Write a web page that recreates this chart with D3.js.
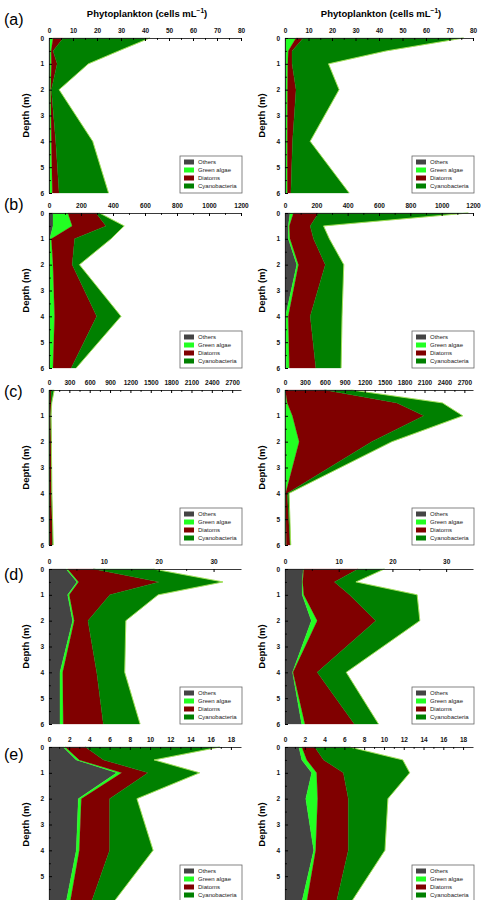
<!DOCTYPE html>
<html>
<head>
<meta charset="utf-8">
<script src="https://cdn.jsdelivr.net/npm/d3@7"></script>
<style>
  body { margin: 0; background: #fff; }
  svg { display: block; }
  text { font-family: "Liberation Sans", Arial, sans-serif; }
</style>
</head>
<body>
<svg id="chart" width="484" height="900"></svg>
<script>
const depths = [0, 0.5, 1, 2, 4, 6];
const groups = ["Others", "Green algae", "Diatoms", "Cyanobacteria"];
const colors = ["#444444", "#22ff22", "#800000", "#008000"];
const panelLabels = ["(a)", "(b)", "(c)", "(d)", "(e)"];
const xMax = [80, 1200, 2830, 35, 19];
const xStep = [10, 200, 300, 10, 2];
const depthTicks = [0, 1, 2, 3, 4, 5, 6];

// one row per group: Others, Green algae, Diatoms, Cyanobacteria (values at each depth)
const aLeft = [
  [0.2, 0.2, 0.2, 0.1, 0.2, 0.2],
  [1.5, 0.7, 0.8, 0.6, 0.8, 1.2],
  [4.2, 0.8, 2.4, 0.3, 1.8, 2.8],
  [36.1, 27.3, 13.0, 3.2, 15.4, 20.6]
];
const aRight = [
  [0.2, 0.2, 0.2, 0.2, 0.2, 0.2],
  [4.5, 1.2, 1.0, 0.9, 0.8, 0.8],
  [3.1, 1.6, 1.8, 3.6, 2.2, 1.5],
  [68.2, 40.0, 15.5, 18.3, 7.5, 24.8]
];
const bLeft = [
  [25, 25, 5, 4, 4, 4],
  [93, 120, 10, 21, 31, 21],
  [176, 211, 145, 120, 263, 114],
  [21, 114, 228, 45, 152, 31]
];
const bRight = [
  [32, 21, 21, 75, 3, 8],
  [22, 7, 11, 11, 18, 20],
  [160, 133, 150, 171, 140, 169],
  [956, 85, 101, 118, 203, 161]
];
const cLeft = [
  [2, 2, 2, 2, 2, 2],
  [5, 3, 3, 3, 5, 5],
  [25, 25, 20, 25, 30, 45],
  [45, 10, 5, 5, 5, 10]
];
const cRight = [
  [2, 2, 2, 2, 2, 2],
  [3, 33, 110, 211, 8, 18],
  [590, 1650, 1979, 1092, 25, 56],
  [405, 685, 584, 304, 26, 10]
];
const dLeft = [
  [3.1, 5.1, 3.4, 4.3, 2.0, 2.0],
  [0.3, 0.3, 0.3, 0.3, 0.5, 0.6],
  [4.7, 14.7, 7.4, 2.5, 6.2, 7.3],
  [10.9, 11.6, 8.8, 6.9, 5.1, 6.7]
];
const dRight = [
  [3.4, 3.2, 3.2, 4.9, 1.4, 3.1],
  [0.1, 0.1, 0.3, 1.1, 0.1, 0.6],
  [10.1, 5.9, 8.5, 10.9, 4.5, 9.2],
  [4.9, 4.0, 12.6, 8.2, 5.4, 4.5]
];
const eLeft = [
  [1.4, 2.7, 6.7, 2.9, 2.7, 1.7],
  [0.2, 0.3, 0.5, 0.3, 0.3, 0.4],
  [2.0, 2.4, 2.6, 2.8, 3.0, 2.1],
  [13.3, 5.0, 5.1, 2.7, 4.3, 2.2]
];
const eRight = [
  [1.4, 1.7, 2.7, 2.1, 2.9, 1.7],
  [0.3, 0.5, 0.5, 1.2, 0.2, 0.5],
  [1.3, 1.7, 2.7, 3.1, 3.3, 3.0],
  [3.5, 8.0, 6.7, 4.0, 3.7, 1.5]
];
const rows = [[aLeft, aRight], [bLeft, bRight], [cLeft, cRight], [dLeft, dRight], [eLeft, eRight]];

const svg = d3.select("#chart");
const rowTop = [38, 213, 390, 569, 747];
const labelY = [25, 210, 397, 580, 760];
const plotH = 155;
const cols = [{x0: 49, x1: 241}, {x0: 285, x1: 473}];

const stack = d3.stack().keys(groups);
const fmt = d3.format("d");

rows.forEach((pair, r) => {
  svg.append("text")
    .attr("x", 4).attr("y", labelY[r])
    .attr("font-size", 16)
    .text(panelLabels[r]);

  pair.forEach((vals, c) => {
    const top = rowTop[r];
    const col = cols[c];
    const x = d3.scaleLinear().domain([0, xMax[r]]).range([col.x0, col.x1]);
    const y = d3.scaleLinear().domain([0, 6]).range([top, top + plotH]);

    const table = depths.map((d, i) => {
      const o = {depth: d};
      groups.forEach((g, k) => o[g] = vals[k][i]);
      return o;
    });
    const layers = stack(table);

    const area = d3.area()
      .y(d => y(d.data.depth))
      .x0(d => x(d[0]))
      .x1(d => x(d[1]));

    const g = svg.append("g");
    g.selectAll("path.layer")
      .data(layers)
      .enter()
      .append("path")
        .attr("class", "layer")
        .attr("fill", (d, i) => colors[i])
        .attr("stroke", (d, i) => colors[i])
        .attr("stroke-width", 0.3)
        .attr("d", area);

    // light edge on the outer boundary
    const edge = d3.line().y(d => y(d.data.depth)).x(d => x(d[1]));
    g.append("path")
      .attr("fill", "none")
      .attr("stroke", "#b6ee5c")
      .attr("stroke-width", 0.8)
      .attr("d", edge(layers[3]));

    // top axis
    const ticks = d3.range(0, xMax[r] + 0.001, xStep[r]);
    const minor = d3.range(xStep[r] / 2, xMax[r], xStep[r]);
    const xAxis = svg.append("g")
      .attr("transform", `translate(0,${top})`)
      .call(d3.axisTop(x).tickValues(ticks).tickFormat(fmt).tickSizeInner(-3).tickSizeOuter(0).tickPadding(5));
    xAxis.selectAll("text").attr("font-size", 6.5).attr("font-weight", "bold").attr("fill", "#111");
    svg.append("g")
      .attr("transform", `translate(0,${top})`)
      .call(d3.axisTop(x).tickValues(minor).tickSize(-1.8).tickFormat(""))
      .call(s => s.select(".domain").remove());

    // left axis
    const yAxis = svg.append("g")
      .attr("transform", `translate(${col.x0},0)`)
      .call(d3.axisLeft(y).tickValues(depthTicks).tickFormat(fmt).tickSizeInner(-3).tickSizeOuter(0).tickPadding(5));
    yAxis.selectAll("text").attr("font-size", 6.5).attr("font-weight", "bold").attr("fill", "#111");
    svg.append("g")
      .attr("transform", `translate(${col.x0},0)`)
      .call(d3.axisLeft(y).tickValues(d3.range(0.5, 6, 1)).tickSize(-1.8).tickFormat(""))
      .call(s => s.select(".domain").remove());

    svg.selectAll(".domain").attr("stroke", "#222").attr("stroke-width", 0.9);

    svg.append("text")
      .attr("transform", `translate(${col.x0 - 20},${top + plotH / 2}) rotate(-90)`)
      .attr("text-anchor", "middle")
      .attr("font-size", 9.5)
      .attr("font-weight", "bold")
      .text("Depth (m)");

    if (r === 0) {
      const t = svg.append("text")
        .attr("x", (col.x0 + col.x1) / 2 + 2).attr("y", 17)
        .attr("text-anchor", "middle")
        .attr("font-size", 9.5)
        .attr("font-weight", "bold");
      t.append("tspan").text("Phytoplankton (cells mL");
      t.append("tspan").attr("dy", -4).attr("font-size", 6.5).text("\u22121");
      t.append("tspan").attr("dy", 4).text(")");
    }

    // legend
    const lw = 62, lh = 37;
    const lx = col.x1 - lw + 1, ly = top + plotH - lh;
    const leg = svg.append("g").attr("transform", `translate(${lx},${ly})`);
    leg.append("rect")
      .attr("width", lw).attr("height", lh)
      .attr("fill", "#fff").attr("stroke", "#666").attr("stroke-width", 0.8);
    const item = leg.selectAll("g.item")
      .data(groups)
      .enter()
      .append("g")
        .attr("class", "item")
        .attr("transform", (d, i) => `translate(4,${6 + i * 8})`);
    item.append("rect")
      .attr("y", -2.5).attr("width", 10).attr("height", 5)
      .attr("fill", (d, i) => colors[i]);
    item.append("text")
      .attr("x", 14).attr("y", 2.2)
      .attr("font-size", 6)
      .attr("fill", "#222")
      .text(d => d);
  });
});
</script>
</body>
</html>
